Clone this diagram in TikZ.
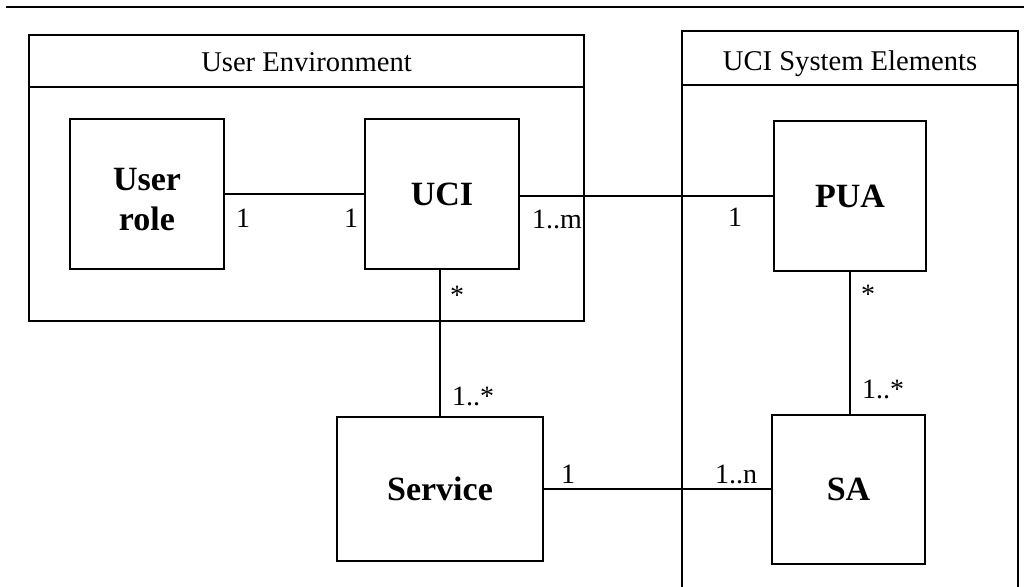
\documentclass[tikz,border=0pt]{standalone}
\usepackage{fontspec}
\setmainfont{Liberation Serif}
\usetikzlibrary{calc}

\begin{document}
\begin{tikzpicture}[x=0.5pt,y=-0.5pt,line width=1pt,
        classbox/.style={draw,inner sep=0pt,align=center,font=\fontsize{17}{20}\selectfont\bfseries},
        mult/.style={anchor=base,inner sep=0pt,font=\fontsize{14}{16}\selectfont},
        title/.style={anchor=base,inner sep=0pt,font=\fontsize{14.3}{16}\selectfont}]
        \useasboundingbox (0,0) rectangle (1031,587);
        \draw (6,7) -- (1024,7);
        % user environment
        \draw (29,35) rectangle (584,321);
        \draw (29,87) -- (584,87);
        \node[title] (userenv) at (306.5,72) {User Environment};
        % system elements
        \draw (682,587) -- (682,31) -- (1018,31) -- (1018,587);
        \draw (682,85) -- (1019,85);
        \node[title] (ucisys) at (850,71) {UCI System Elements};
        % classes
        \node[classbox,minimum width=77pt,minimum height=75pt] (role) at (147,194) {};
        \node[align=center,inner sep=0pt,font=\fontsize{17}{20}\selectfont\bfseries] (roletext) at (147,200) {User\\role};
        \node[classbox,minimum width=77pt,minimum height=75pt] (uci) at (442,194) {UCI};
        \node[classbox,minimum width=76pt,minimum height=75pt] (pua) at (850,196) {PUA};
        \node[classbox,minimum width=103pt,minimum height=72pt] (service) at (440,489) {Service};
        \node[classbox,minimum width=76.5pt,minimum height=74.5pt] (sa) at (848.5,489) {SA};
        % associations
        \draw (role.east) -- (uci.west);
        \draw (uci.east |- pua.west) -- (pua.west);
        \draw (uci.south -| service.north) -- (service.north);
        \draw (pua.south) -- (pua.south |- sa.north);
        \draw (service.east) -- (sa.west);
        % multiplicities
        \node[mult] (m1) at (243,228) {1};
        \node[mult] (m2) at (351,228) {1};
        \node[mult] (m3) at (557,229) {1..m};
        \node[mult] (m4) at (735,227) {1};
        \node[mult] (m5) at (457,305) {*};
        \node[mult] (m6) at (868,303) {*};
        \node[mult] (m7) at (473,405) {1..*};
        \node[mult] (m8) at (883,398) {1..*};
        \node[mult] (m9) at (568,483) {1};
        \node[mult] (m10) at (736,483) {1..n};
\end{tikzpicture}
\end{document}
